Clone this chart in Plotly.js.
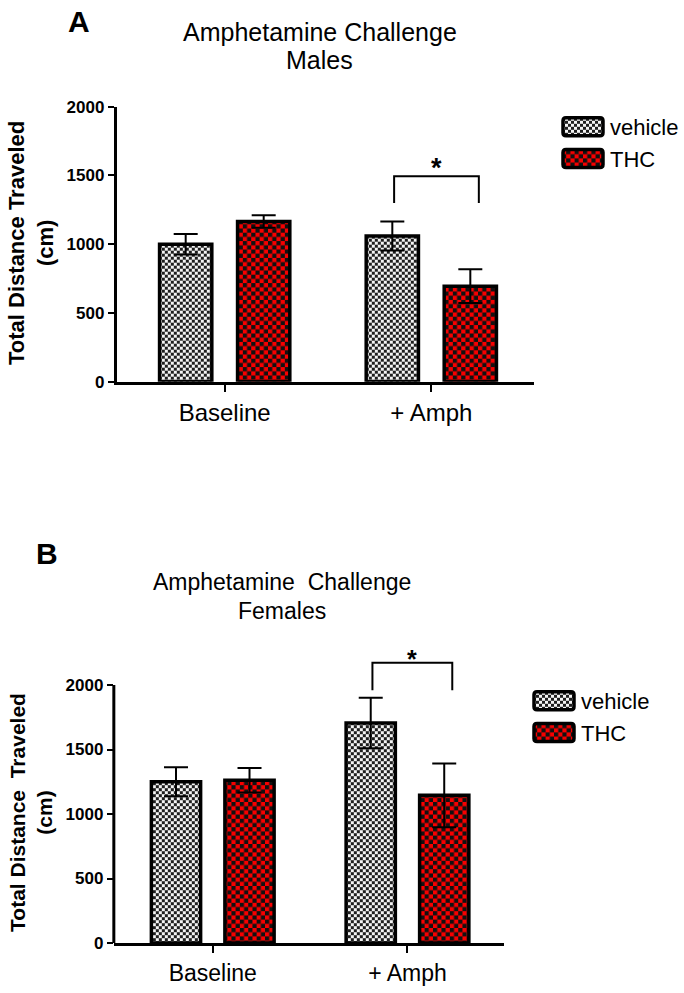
<!DOCTYPE html>
<html>
<head>
<meta charset="utf-8">
<script src="https://cdn.plot.ly/plotly-3.0.1.min.js"></script>
<style>
  html, body { margin: 0; padding: 0; background: #fff; }
  #chart { width: 684px; height: 993px; }
</style>
</head>
<body>
<div id="chart"></div>
<script>
// ---------------- data ----------------
const categories = ['Baseline', '+ Amph'];
const seriesNames = ['vehicle', 'THC'];

// Panel A: males
const malesVehicle = [1000, 1060];
const malesVehicleSEM = [75, 105];
const malesTHC = [1165, 695];
const malesTHCSEM = [45, 123];
const malesSig = [1300, 1495];      // bracket leg bottom, bracket top

// Panel B: females
const femalesVehicle = [1250, 1705];
const femalesVehicleSEM = [112, 196];
const femalesTHC = [1262, 1145];
const femalesTHCSEM = [95, 247];
const femalesSig = [1960, 2173];

const yTicks = [0, 500, 1000, 1500, 2000];

// ---------------- styles ----------------
const FONT = 'Liberation Sans, Arial, sans-serif';
const catPos = categories.map((c, i) => i);
const barLine = { color: '#000', width: 3.5 };
const errStyle = { type: 'data', color: '#000', thickness: 2, width: 12 };

function bars(name, y, sem, xa, ya, legend, fill) {
  return {
    type: 'bar', name: name, x: catPos, y: y,
    xaxis: xa, yaxis: ya, legend: legend, showlegend: true,
    marker: { color: fill, line: barLine },
    error_y: Object.assign({ array: sem }, errStyle),
    hoverinfo: 'skip'
  };
}

const data = [
  bars(seriesNames[0], malesVehicle, malesVehicleSEM, 'x', 'y', 'legend', '#9a9a9a'),
  bars(seriesNames[1], malesTHC, malesTHCSEM, 'x', 'y', 'legend', '#c00000'),
  bars(seriesNames[0], femalesVehicle, femalesVehicleSEM, 'x2', 'y2', 'legend2', '#9a9a9a'),
  bars(seriesNames[1], femalesTHC, femalesTHCSEM, 'x2', 'y2', 'legend2', '#c00000')
];

const W = 684, H = 993;
const px = v => v / W;
const py = v => 1 - v / H;

function xAxis(domain, range, anchor, size) {
  return {
    domain: domain, range: range, type: 'linear', anchor: anchor,
    tickvals: catPos, ticktext: categories,
    ticks: 'outside', ticklen: 7, tickwidth: 2, tickcolor: '#000',
    showline: true, linewidth: 3, linecolor: '#000',
    showgrid: false, zeroline: false,
    tickfont: { family: FONT, size: size, color: '#000' },
    fixedrange: true
  };
}
function yAxis(domain, range, anchor, showline) {
  return {
    domain: domain, range: range, anchor: anchor,
    tickvals: yTicks, ticktext: yTicks.map(String),
    ticks: 'outside', ticklen: 6, tickwidth: 2, tickcolor: '#000',
    showline: showline, linewidth: 3, linecolor: '#000',
    showgrid: false, zeroline: false,
    tickfont: { family: FONT, size: 17, color: '#000', weight: 'bold' },
    fixedrange: true
  };
}

const bxOff = [-0.18, 0.23]; // bracket ends relative to '+ Amph' group centre

function bracket(xa, ya, sig) {
  const x0 = 1 + bxOff[0], x1 = 1 + bxOff[1];
  return {
    type: 'path', xref: xa, yref: ya,
    path: `M${x0},${sig[0]} L${x0},${sig[1]} L${x1},${sig[1]} L${x1},${sig[0]}`,
    line: { color: '#000', width: 2 }
  };
}

function txt(text, x, y, size, extra) {
  return Object.assign({
    text: text, xref: 'paper', yref: 'paper', x: px(x), y: py(y),
    xanchor: 'center', yanchor: 'middle', showarrow: false,
    font: { family: FONT, size: size, color: '#000' }
  }, extra || {});
}

const legendFont = { family: FONT, size: 22, color: '#000' };

const layout = {
  width: W, height: H,
  margin: { l: 0, r: 0, t: 0, b: 0 },
  paper_bgcolor: '#fff', plot_bgcolor: 'rgba(0,0,0,0)',
  barmode: 'group', bargap: 0.245, bargroupgap: 0.33,
  showlegend: true,
  font: { family: FONT, color: '#000' },
  xaxis: xAxis([px(117), px(535)], [-0.522, 1.498], 'y', 24),
  yaxis: yAxis([py(381.7), py(106.7)], [0, 2000], 'x', true),
  xaxis2: xAxis([px(114), px(505)], [-0.508, 1.497], 'y2', 23),
  yaxis2: yAxis([py(943), py(659.2)], [0, 2200], 'x2', false),
  legend: {
    x: px(557), y: py(106), xanchor: 'left', yanchor: 'top',
    font: legendFont, itemwidth: 44, tracegroupgap: 0, bgcolor: 'rgba(0,0,0,0)'
  },
  legend2: {
    x: px(527), y: py(680), xanchor: 'left', yanchor: 'top',
    font: legendFont, itemwidth: 44, tracegroupgap: 0, bgcolor: 'rgba(0,0,0,0)'
  },
  shapes: [
    bracket('x', 'y', malesSig),
    bracket('x2', 'y2', femalesSig),
    { type: 'line', xref: 'x2 domain', yref: 'y2', x0: 0, x1: 0, y0: 0, y1: yTicks[yTicks.length - 1],
      line: { color: '#000', width: 3 } }
  ],
  annotations: [
    txt('<b>A</b>', 79, 22, 30),
    txt('Amphetamine Challenge', 320, 32, 25),
    txt('Males', 320, 60, 25),
    txt('<b>Total Distance Traveled<br>(cm)</b>', 31, 243, 22, { textangle: -90 }),
    Object.assign(txt('<b>*</b>', 0, 168, 27), { xref: 'x', x: 1 + (bxOff[0] + bxOff[1]) / 2 }),

    txt('<b>B</b>', 47, 553, 30),
    txt('Amphetamine  Challenge', 282, 582, 23),
    txt('Females', 282, 611, 23),
    txt('<b>Total Distance  Traveled<br>(cm)</b>', 31, 812, 21, { textangle: -90 }),
    Object.assign(txt('<b>*</b>', 0, 659, 25), { xref: 'x2', x: 1 + (bxOff[0] + bxOff[1]) / 2 })
  ]
};

Plotly.newPlot('chart', data, layout, { staticPlot: true }).then(function (gd) {
  // Checkerboard fills to mimic the original patterns
  const svg = gd.querySelector('svg.main-svg');
  const NS = 'http://www.w3.org/2000/svg';
  let defs = svg.querySelector('defs');
  if (!defs) { defs = document.createElementNS(NS, 'defs'); svg.insertBefore(defs, svg.firstChild); }
  function checker(id, size, bg, fg) {
    const p = document.createElementNS(NS, 'pattern');
    p.setAttribute('id', id);
    p.setAttribute('patternUnits', 'userSpaceOnUse');
    p.setAttribute('width', 2 * size); p.setAttribute('height', 2 * size);
    const r0 = document.createElementNS(NS, 'rect');
    r0.setAttribute('width', 2 * size); r0.setAttribute('height', 2 * size); r0.setAttribute('fill', bg);
    p.appendChild(r0);
    [[0, 0], [size, size]].forEach(function (o) {
      const r = document.createElementNS(NS, 'rect');
      r.setAttribute('x', o[0]); r.setAttribute('y', o[1]);
      r.setAttribute('width', size); r.setAttribute('height', size); r.setAttribute('fill', fg);
      p.appendChild(r);
    });
    defs.appendChild(p);
  }
  checker('chkGray', 3, '#f4f4f4', '#1e1e1e');
  checker('chkRed', 4.2, '#f80000', '#111');
  gd.querySelectorAll('.barlayer .point path, .legendpoints path').forEach(function (p) {
    const f = p.style.fill;
    if (f === 'rgb(154, 154, 154)') p.style.fill = 'url(#chkGray)';
    else if (f === 'rgb(192, 0, 0)') p.style.fill = 'url(#chkRed)';
  });
  gd.querySelectorAll('.legendpoints path').forEach(function (p) {
    p.setAttribute('d', 'M-17,-9H17Q20,-9 20,-6V6Q20,9 17,9H-17Q-20,9 -20,6V-6Q-20,-9 -17,-9Z');
    p.style.strokeWidth = '3.5px';
  });
});
</script>
</body>
</html>
